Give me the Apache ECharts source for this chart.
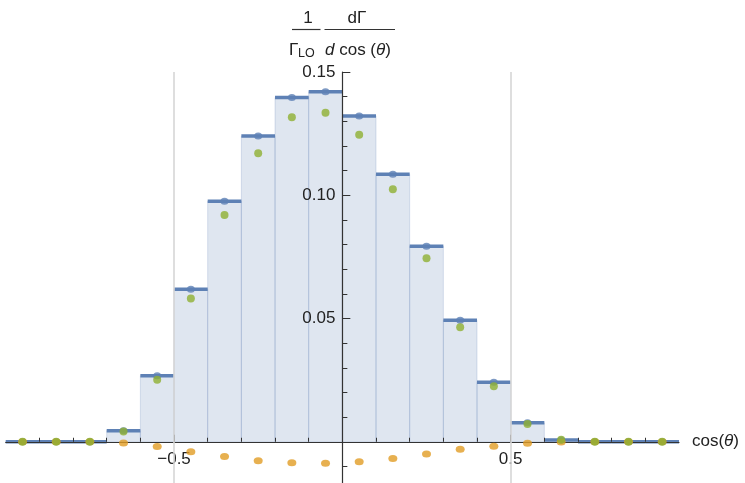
<!DOCTYPE html>
<html>
<head>
<meta charset="utf-8">
<script src="https://cdn.jsdelivr.net/npm/echarts@6/dist/echarts.min.js"></script>
<style>
  html, body { margin: 0; padding: 0; background: #fff; }
  #chart { width: 745px; height: 483px; }
</style>
</head>
<body>
<div id="chart"></div>
<script>
// Bin centres of cos(theta), bins of width 0.1 from -1 to 1
const binCenters = [-0.95, -0.85, -0.75, -0.65, -0.55, -0.45, -0.35, -0.25, -0.15, -0.05,
                     0.05,  0.15,  0.25,  0.35,  0.45,  0.55,  0.65,  0.75,  0.85,  0.95];
const binWidth = 0.1;

// Normalised distribution, leading order (blue histogram)
const loValues = [0, 0, 0, 0.0045, 0.0268, 0.0619, 0.0976, 0.1240, 0.1397, 0.1420,
                  0.1322, 0.1085, 0.0793, 0.0493, 0.0241, 0.0077, 0.0007, 0, 0, 0];
// Corrected distribution (green points)
const nloValues = [0, 0, 0, 0.0042, 0.0252, 0.0581, 0.0920, 0.1170, 0.1316, 0.1335,
                   0.1245, 0.1024, 0.0744, 0.0465, 0.0225, 0.0072, 0.0008, 0, 0, 0];
// Correction term (orange points)
const corrValues = [0, 0, 0, -0.0005, -0.0019, -0.0041, -0.0060, -0.0077, -0.0085, -0.0087,
                    -0.0081, -0.0068, -0.0050, -0.0030, -0.0018, -0.0006, -0.0001, 0, 0, 0];

const xTickLabels = [-0.5, 0.5];
const yTickLabels = [0.05, 0.10, 0.15];
const xGridLines = [-0.5, 0.5];

const FONT = '"Liberation Sans", Arial, sans-serif';
const BLUE = '#5E81B5';
const ORANGE = '#E19C24';
const GREEN = '#8FB032';

const X_MIN = -1, X_MAX = 1, Y_MIN = -0.05, Y_MAX = 0.15;
const GRID = { left: 5.7, right: 66, top: 72, bottom: -82 };
const W = 745, H = 483;

// Axes cross at the origin: shift each axis from the grid edge to the zero line
const gridW = W - GRID.left - GRID.right;
const gridH = H - GRID.top - GRID.bottom;
const yAxisOffset = -gridW * (0 - X_MIN) / (X_MAX - X_MIN);
const xAxisOffset = -gridH * (0 - Y_MIN) / (Y_MAX - Y_MIN);

const pairs = vals => binCenters.map((x, i) => [x, vals[i]]);

const chart = echarts.init(document.getElementById('chart'), null, { renderer: 'canvas' });

chart.setOption({
  animation: false,
  backgroundColor: '#fff',
  grid: Object.assign({ containLabel: false, outerBoundsMode: 'none' }, GRID),
  xAxis: {
    type: 'value',
    position: 'bottom',
    offset: xAxisOffset,
    min: X_MIN, max: X_MAX, interval: 0.5,
    z: 3,
    axisLine: { onZero: false, lineStyle: { color: '#333', width: 1.2 } },
    axisTick: { inside: true, length: 7, customValues: [-0.5, 0, 0.5], lineStyle: { color: '#333' } },
    minorTick: { show: true, splitNumber: 5, length: 4, lineStyle: { color: '#333' } },
    axisLabel: {
      customValues: xTickLabels,
      formatter: v => (v < 0 ? '\u2212' + Math.abs(v) : String(v)),
      fontSize: 17, color: '#222', fontFamily: FONT, margin: 9
    },
    splitLine: { show: false },
    name: 'cos({i|θ})',
    nameLocation: 'end',
    nameGap: 13,
    nameTextStyle: {
      fontSize: 17, color: '#222', fontFamily: FONT,
      rich: { i: { fontStyle: 'italic', fontSize: 17, fontFamily: FONT, color: '#222' } }
    }
  },
  yAxis: {
    type: 'value',
    position: 'left',
    offset: yAxisOffset,
    min: Y_MIN, max: Y_MAX, interval: 0.05,
    z: 3,
    axisLine: { onZero: false, lineStyle: { color: '#333', width: 1.2 } },
    axisTick: { inside: true, length: 8, lineStyle: { color: '#333' } },
    minorTick: { show: true, splitNumber: 5, length: 5, lineStyle: { color: '#333' } },
    axisLabel: {
      customValues: yTickLabels,
      formatter: v => v.toFixed(2),
      fontSize: 17, color: '#222', fontFamily: FONT, margin: 7
    },
    splitLine: { show: false }
  },
  graphic: [
    { type: 'text', z: 10, style: { text: '1', x: 308, y: 18, textAlign: 'center', textVerticalAlign: 'middle', fontSize: 17, fontFamily: FONT, fill: '#222' } },
    { type: 'line', z: 10, shape: { x1: 292, y1: 29.5, x2: 320.5, y2: 29.5 }, style: { stroke: '#333', lineWidth: 1.2 } },
    { type: 'text', z: 10, style: { text: 'dΓ', x: 357, y: 18, textAlign: 'center', textVerticalAlign: 'middle', fontSize: 17, fontFamily: FONT, fill: '#222' } },
    { type: 'line', z: 10, shape: { x1: 324.5, y1: 29.5, x2: 395, y2: 29.5 }, style: { stroke: '#333', lineWidth: 1.2 } },
    { type: 'text', z: 10, style: { text: 'Γ', x: 289, y: 50, textAlign: 'left', textVerticalAlign: 'middle', fontSize: 17, fontFamily: FONT, fill: '#222' } },
    { type: 'text', z: 10, style: { text: 'LO', x: 298, y: 54, textAlign: 'left', textVerticalAlign: 'middle', fontSize: 12.5, fontFamily: FONT, fill: '#222' } },
    { type: 'text', z: 10, style: {
        text: '{i|d} cos ({i|θ})', x: 325, y: 50, textAlign: 'left', textVerticalAlign: 'middle',
        fontSize: 17, fontFamily: FONT, fill: '#222',
        rich: { i: { fontStyle: 'italic', fontSize: 17, fontFamily: FONT, fill: '#222' } }
      } }
  ],
  series: [
    {
      // shaded histogram bins
      type: 'custom',
      z: 1,
      data: pairs(loValues),
      renderItem: (params, api) => {
        const x = api.value(0), y = api.value(1);
        const a = api.coord([x - binWidth / 2, y]);
        const b = api.coord([x + binWidth / 2, 0]);
        return {
          type: 'rect',
          shape: { x: a[0], y: a[1], width: b[0] - a[0], height: b[1] - a[1] },
          style: { fill: 'rgba(94,129,181,0.2)', stroke: 'rgba(94,129,181,0.22)', lineWidth: 1 }
        };
      },
      markLine: {
        silent: true,
        symbol: 'none',
        label: { show: false },
        lineStyle: { color: '#d6d6d6', width: 1.6, type: 'solid' },
        data: xGridLines.map(v => ({ xAxis: v }))
      }
    },
    {
      // bin-wide horizontal bars
      type: 'custom',
      z: 2,
      data: pairs(loValues),
      renderItem: (params, api) => {
        const x = api.value(0), y = api.value(1);
        const a = api.coord([x - binWidth / 2, y]);
        const b = api.coord([x + binWidth / 2, y]);
        return {
          type: 'line',
          shape: { x1: a[0], y1: a[1], x2: b[0], y2: b[1] },
          style: { stroke: BLUE, lineWidth: 3.5 }
        };
      }
    },
    {
      type: 'scatter', z: 4,
      data: pairs(loValues),
      symbol: 'circle', symbolSize: [8, 7],
      itemStyle: { color: BLUE }
    },
    {
      type: 'scatter', z: 5,
      data: pairs(corrValues),
      symbol: 'circle', symbolSize: [9, 7],
      itemStyle: { color: ORANGE }
    },
    {
      type: 'scatter', z: 6,
      data: pairs(nloValues),
      symbol: 'circle', symbolSize: [8, 8],
      itemStyle: { color: GREEN }
    }
  ]
});
</script>
</body>
</html>
